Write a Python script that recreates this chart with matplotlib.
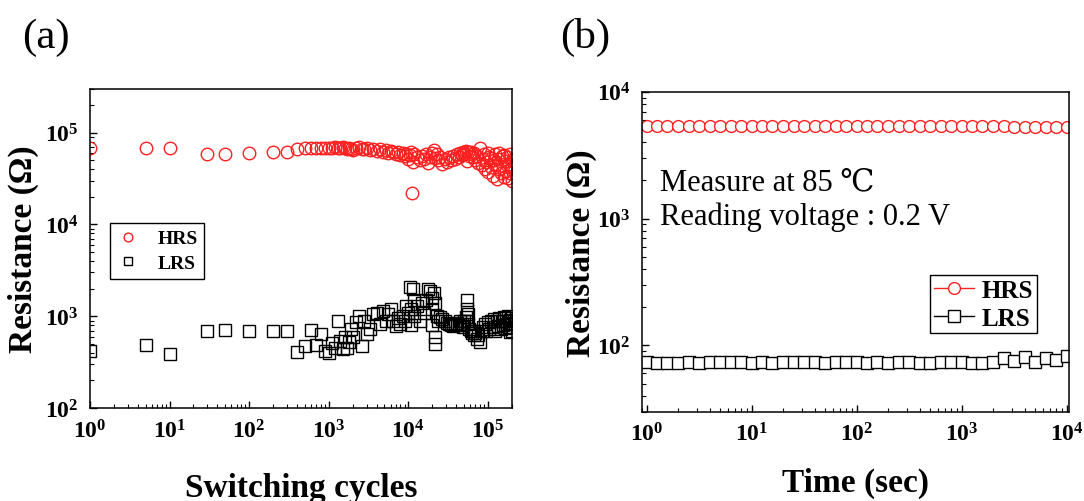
import math
import matplotlib
matplotlib.use("Agg")
import matplotlib.pyplot as plt
from matplotlib.ticker import LogLocator, FuncFormatter, NullFormatter

plt.rcParams['font.family'] = ['Liberation Serif', 'DejaVu Serif']
plt.rcParams['mathtext.fontset'] = 'custom'
plt.rcParams['mathtext.rm'] = 'Liberation Serif'
plt.rcParams['mathtext.bf'] = 'Liberation Serif:bold'

# (a) endurance data
hrs_cycles = [1, 5, 10, 30, 50, 100, 200, 300, 400, 500,
              600, 700, 800, 900, 1000, 1100, 1200, 1300, 1400, 1500,
              1600, 1700, 1800, 1900, 2000, 2200, 2400, 2600, 2800, 3000,
              3300, 3600, 4000, 4400, 4800, 5200, 5600, 6000, 6500, 7000,
              7500, 8000, 8500, 9000, 9500, 10000, 10500, 11000, 11300, 11500,
              12000, 13000, 14000, 15000, 16000, 17000, 18000, 19000, 20000, 21000,
              22000, 23000, 24000, 25000, 27000, 29000, 31000, 33000, 35000, 37000,
              39000, 41000, 43000, 45000, 47000, 49000, 51000, 53000, 55000, 57000,
              59000, 61000, 63000, 65000, 67000, 70000, 73000, 76000, 80000, 84000,
              88000, 92000, 96000, 100000, 105000, 110000, 115000, 120000, 125000, 130000,
              135000, 140000, 145000, 150000, 155000, 160000, 165000, 170000, 175000, 180000,
              185000, 190000, 195000, 200000, 90000, 100000, 110000, 125000, 140000, 160000,
              175000, 190000, 200000, 200000]
hrs_ohm = [68000, 68000, 68000, 59000, 59000, 60000, 62000, 62000, 67000, 68000,
           68000, 68000, 68000, 68000, 68000, 68000, 69000, 68000, 68000, 69000,
           68000, 67000, 68000, 66000, 64000, 68000, 69000, 67000, 66000, 68000,
           65000, 67000, 63000, 66000, 62000, 64000, 60000, 63000, 61000, 58000,
           62000, 57000, 60000, 56000, 59000, 52000, 57000, 62000, 22000, 48000,
           58000, 54000, 50000, 56000, 52000, 58000, 47000, 55000, 60000, 64000,
           53000, 58000, 50000, 55000, 46000, 52000, 48000, 54000, 50000, 56000,
           52000, 58000, 55000, 60000, 57000, 62000, 58000, 63000, 49000, 61000,
           56000, 62000, 58000, 54000, 60000, 50000, 56000, 47000, 68000, 44000,
           52000, 40000, 48000, 37000, 55000, 42000, 34000, 50000, 45000, 31000,
           52000, 40000, 36000, 56000, 43000, 33000, 49000, 38000, 54000, 32000,
           46000, 58000, 40000, 30000, 58000, 60000, 53000, 58000, 60000, 57000,
           44000, 36000, 50000, 42000]

lrs_cycles = [1, 5, 10, 30, 50, 100, 200, 300, 400, 500,
              600, 700, 800, 900, 1000, 1100, 1200, 1300, 1400, 1500,
              1600, 1700, 1800, 1900, 2000, 2200, 2400, 2600, 2800, 3000,
              3300, 3600, 4000, 4400, 4800, 5200, 5600, 6000, 6500, 7000,
              7500, 8000, 8500, 9000, 9500, 10000, 10500, 11000, 11500, 12000,
              13000, 14000, 15000, 16000, 17000, 18000, 19000, 20000, 21000, 21500,
              22000, 23000, 24000, 25000, 27000, 29000, 31000, 33000, 35000, 37000,
              39000, 41000, 43000, 45000, 47000, 49000, 51000, 53000, 55000, 56000,
              57000, 59000, 61000, 63000, 65000, 67000, 70000, 73000, 76000, 80000,
              84000, 88000, 92000, 96000, 100000, 105000, 110000, 115000, 120000, 125000,
              130000, 135000, 140000, 145000, 150000, 155000, 160000, 165000, 170000, 175000,
              180000, 185000, 190000, 195000, 200000, 20000, 20000, 22000, 55000, 55000,
              12000, 11000, 200000, 190000]
lrs_ohm = [420, 490, 390, 700, 710, 700, 700, 700, 410, 470,
           710, 490, 640, 420, 400, 510, 450, 880, 540, 440,
           600, 450, 520, 720, 600, 870, 1000, 480, 900, 640,
           720, 1050, 1100, 820, 1150, 900, 1050, 1200, 880, 780,
           950, 820, 1000, 880, 1300, 1100, 2100, 1200, 2000, 1000,
           1300, 900, 1400, 1100, 1500, 2000, 1900, 1200, 1800, 500,
           600, 1000, 900, 980, 940, 880, 850, 820, 800, 780,
           820, 850, 800, 880, 820, 760, 900, 980, 1500, 1050,
           820, 720, 700, 660, 700, 620, 650, 560, 620, 520,
           700, 760, 820, 700, 860, 720, 900, 760, 940, 700,
           880, 780, 960, 720, 900, 800, 980, 740, 900, 820,
           1000, 760, 920, 850, 960, 1600, 800, 1400, 1200, 900,
           1500, 800, 700, 680]

# (b) retention data at 85 C
ret_time = [1, 1.26, 1.58, 2, 2.51, 3.16, 3.98, 5.01, 6.31, 7.94,
            10, 12.6, 15.8, 20, 25.1, 31.6, 39.8, 50.1, 63.1, 79.4,
            100, 126, 158, 200, 251, 316, 398, 501, 631, 794,
            1000, 1260, 1580, 2000, 2510, 3160, 3980, 5010, 6310, 7940,
            10000]
ret_hrs = [5400, 5400, 5400, 5400, 5400, 5400, 5400, 5400, 5400, 5400,
           5400, 5400, 5400, 5400, 5400, 5400, 5400, 5400, 5400, 5400,
           5400, 5400, 5400, 5400, 5400, 5400, 5400, 5400, 5400, 5400,
           5400, 5350, 5350, 5350, 5350, 5300, 5300, 5250, 5250, 5250,
           5250]
ret_lrs = [74, 73, 73, 73, 74, 73, 74, 74, 74, 74,
           73, 74, 73, 74, 74, 74, 74, 73, 74, 74,
           74, 73, 74, 73, 74, 74, 73, 73, 74, 74,
           74, 73, 73, 74, 80, 75, 81, 74, 79, 77,
           83]

RED = '#ff2020'


def pow_fmt(v, pos):
    e = int(round(math.log10(v)))
    return r'$\mathbf{10^{%d}}$' % e


def style_axis(ax):
    ax.set_xscale('log')
    ax.set_yscale('log')
    for s in ax.spines.values():
        s.set_linewidth(1.1)
    ax.tick_params(which='both', direction='in', top=False, right=False)
    ax.tick_params(which='major', length=5, width=1, labelsize=17, pad=8)
    ax.tick_params(which='minor', length=3, width=0.8)
    ax.xaxis.set_major_locator(LogLocator(base=10, numticks=20))
    ax.yaxis.set_major_locator(LogLocator(base=10, numticks=20))
    ax.xaxis.set_minor_locator(LogLocator(base=10, subs=range(2, 10), numticks=20))
    ax.yaxis.set_minor_locator(LogLocator(base=10, subs=range(2, 10), numticks=20))
    ax.xaxis.set_major_formatter(FuncFormatter(pow_fmt))
    ax.yaxis.set_major_formatter(FuncFormatter(pow_fmt))
    ax.xaxis.set_minor_formatter(NullFormatter())
    ax.yaxis.set_minor_formatter(NullFormatter())


fig = plt.figure(figsize=(10.84, 5.02), dpi=100)

# ---- (a)
ax1 = fig.add_axes([0.083, 0.185, 0.389, 0.636])
style_axis(ax1)
ax1.plot(hrs_cycles, hrs_ohm, 'o', ms=9, mfc='none', mec=RED, mew=1.0, label='HRS')
ax1.plot(lrs_cycles, lrs_ohm, 's', ms=8.5, mfc='none', mec='black', mew=1.0, label='LRS')
ax1.set_xlim(1, 2e5)
ax1.set_ylim(1e2, 3e5)
ax1.set_xlabel('Switching cycles', fontsize=24, fontweight='bold', labelpad=21)
ax1.set_ylabel('Resistance (Ω)', fontsize=24, fontweight='bold', labelpad=4)
leg1 = ax1.legend(loc='upper left', bbox_to_anchor=(0.047, 0.58), fancybox=False,
                  edgecolor='black', framealpha=1, markerscale=0.7, handlelength=1.2,
                  prop={'size': 14, 'weight': 'bold'}, handletextpad=0.9,
                  borderpad=0.35, labelspacing=0.35, borderaxespad=0)
leg1.get_frame().set_linewidth(1.0)

# ---- (b)
ax2 = fig.add_axes([0.592, 0.178, 0.394, 0.637])
style_axis(ax2)
ax2.plot(ret_time, ret_hrs, '-o', color=RED, lw=1.0, ms=8.5, mfc='white', mec=RED, mew=1.0, label='HRS')
ax2.plot(ret_time, ret_lrs, '-s', color='black', lw=1.0, ms=8, mfc='white', mec='black', mew=1.0, label='LRS')
ax2.set_xlim(0.9, 1.05e4)
ax2.set_ylim(30, 1e4)
ax2.set_xlabel('Time (sec)', fontsize=24, fontweight='bold', labelpad=15)
ax2.set_ylabel('Resistance (Ω)', fontsize=24, fontweight='bold', labelpad=0)
ax2.text(0.042, 0.72, 'Measure at 85 ℃', transform=ax2.transAxes,
         fontsize=22, va='center', ha='left')
ax2.text(0.042, 0.61, 'Reading voltage : 0.2 V', transform=ax2.transAxes,
         fontsize=22, va='center', ha='left')
leg2 = ax2.legend(loc='lower right', bbox_to_anchor=(0.925, 0.245), fancybox=False,
                  edgecolor='black', framealpha=1, handlelength=1.6,
                  prop={'size': 18, 'weight': 'bold'}, handletextpad=0.3,
                  borderpad=0.15, labelspacing=0.2, borderaxespad=0)
leg2.get_frame().set_linewidth(1.0)

fig.text(0.042, 0.925, '(a)', fontsize=31, ha='center', va='center')
fig.text(0.54, 0.925, '(b)', fontsize=31, ha='center', va='center')

fig.savefig('out.png', dpi=100)
